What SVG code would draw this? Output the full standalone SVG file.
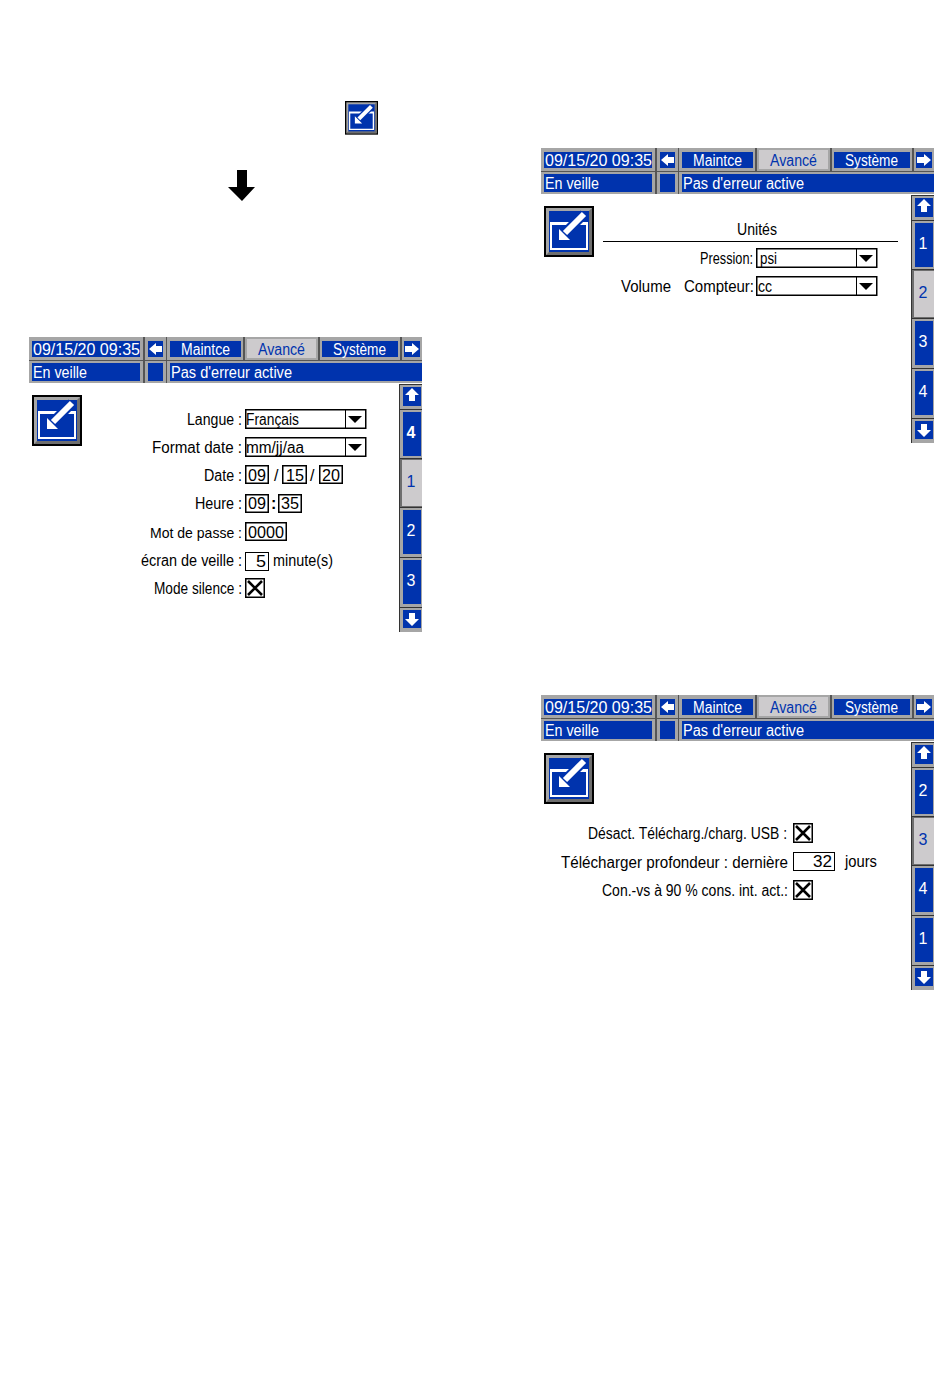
<svg xmlns="http://www.w3.org/2000/svg" width="950" height="1397" viewBox="0 0 950 1397">
<style>
text{font-family:"Liberation Sans",Arial,sans-serif;font-size:16px;fill:#000}
.tw{fill:#fff}.tb{fill:#0033ad}.n{font-size:15px}
.blue{fill:#0033ad}.lt{fill:#a6a6a6}.dk{fill:#6e6e6e}.sel{fill:#cdcbcd}
.box{fill:#fff;stroke:#000;stroke-width:1.500}
.thin{fill:#fff;stroke:#000;stroke-width:1}
</style>
<defs>
<g id="icon">
<rect x="0" y="0" width="50" height="51" fill="#000"/>
<rect x="2" y="2" width="46" height="47" class="lt"/>
<path d="M48 2V49H2L5 46H45V5Z" class="dk"/>
<rect x="5" y="5" width="40" height="41" class="blue"/>
<path d="M6 16H44V44H6Z M8 19V42H42V19Z" fill="#fff" fill-rule="evenodd"/>
<path d="M21 27L40 8" stroke="#0033ad" stroke-width="10" fill="none"/>
<path d="M12 37V20L29 37Z" fill="#0033ad"/>
<path d="M21 27L40 8" stroke="#fff" stroke-width="6" fill="none"/>
<path d="M15 34V23L26 34Z" fill="#fff"/>
</g>
<g id="drop">
<rect x="0.750" y="0.750" width="120" height="18.500" class="box"/>
<path d="M100.500 1V19" stroke="#000"/>
<path d="M103 7H117L110 14Z" fill="#000"/>
</g>
<g id="cb">
<rect x="0.750" y="0.750" width="18.500" height="18.500" class="box"/>
<path d="M3 3L17 17M17 3L3 17" stroke="#000" stroke-width="2.600"/>
</g>
<g id="chrome">
<rect x="0" y="0" width="393" height="46" fill="#555"/>
<rect x="0" y="0" width="114" height="23" class="lt"/><rect x="3" y="4" width="108" height="16" class="blue"/>
<rect x="116" y="0" width="21" height="23" class="lt"/><rect x="119" y="4" width="15" height="16" class="blue"/>
<rect x="138" y="0" width="76" height="23" class="lt"/><rect x="141" y="4" width="71" height="16" class="blue"/>
<rect x="216" y="0" width="73" height="23" class="lt"/><rect x="218" y="2" width="69" height="19" class="sel"/>
<rect x="291" y="0" width="80" height="23" class="lt"/><rect x="293" y="4" width="76" height="16" class="blue"/>
<rect x="373" y="0" width="20" height="23" class="lt"/><rect x="375" y="4" width="16" height="16" class="blue"/>
<rect x="0" y="24" width="114" height="22" class="lt"/><rect x="3" y="26" width="108" height="18" class="blue"/>
<rect x="116" y="24" width="21" height="22" class="lt"/><rect x="119" y="26" width="15" height="18" class="blue"/>
<rect x="138" y="24" width="255" height="22" class="lt"/><rect x="141" y="26" width="252" height="18" class="blue"/>
<path d="M120 12L127 6V9H133V15H127V18Z" fill="#fff"/>
<path d="M390 12L383 6V9H376V15H383V18Z" fill="#fff"/>
<rect x="370" y="47" width="23" height="248" fill="#333"/>
<rect x="371" y="48" width="22" height="24" class="lt"/><rect x="374" y="50" width="18" height="19" class="blue"/>
<rect x="371" y="73" width="22" height="48" class="lt"/><rect x="374" y="75" width="18" height="44" class="blue"/>
<rect x="371" y="122" width="22" height="48" class="dk"/><rect x="373" y="123" width="20" height="46" class="sel"/>
<rect x="371" y="171" width="22" height="49" class="lt"/><rect x="374" y="173" width="18" height="44" class="blue"/>
<rect x="371" y="221" width="22" height="49" class="lt"/><rect x="374" y="223" width="18" height="44" class="blue"/>
<rect x="371" y="271" width="22" height="24" class="lt"/><rect x="374" y="273" width="18" height="18" class="blue"/>
<path d="M383 51L390 58H386V64H380V58H376Z" fill="#fff"/>
<path d="M383 289L390 282H386V276H380V282H376Z" fill="#fff"/>
<use href="#icon" x="3" y="58"/>
</g>
</defs>
<rect width="950" height="1397" fill="#fff"/>

<g id="connectors">
<path id="down-arrow" d="M237 170H247V187H255L242 201L228 187H237Z" fill="#000"/>
</g>

<g id="small-icon"><use href="#icon" transform="translate(345 101) scale(0.66)"/></g>

<g id="screen-1" transform="translate(29 337)">
<use href="#chrome"/>
<text x="4" y="18" textLength="107" lengthAdjust="spacingAndGlyphs" class="tw">09/15/20 09:35</text>
<text x="152" y="18" textLength="49" lengthAdjust="spacingAndGlyphs" class="tw">Maintce</text>
<text x="229" y="18" textLength="47" lengthAdjust="spacingAndGlyphs" class="tb">Avancé</text>
<text x="304" y="18" textLength="53" lengthAdjust="spacingAndGlyphs" class="tw">Système</text>
<text x="4" y="41" textLength="54" lengthAdjust="spacingAndGlyphs" class="tw">En veille</text>
<text x="142" y="41" textLength="121" lengthAdjust="spacingAndGlyphs" class="tw">Pas d'erreur active</text>
<text x="382" y="101" text-anchor="middle" class="tw" font-weight="bold">4</text>
<text x="382" y="150" text-anchor="middle" class="tb">1</text>
<text x="382" y="199" text-anchor="middle" class="tw">2</text>
<text x="382" y="249" text-anchor="middle" class="tw">3</text>
<text x="158" y="88" textLength="55" lengthAdjust="spacingAndGlyphs">Langue :</text>
<text x="123" y="116" textLength="90" lengthAdjust="spacingAndGlyphs">Format date :</text>
<text x="175" y="144" textLength="38" lengthAdjust="spacingAndGlyphs">Date :</text>
<text x="166" y="172" textLength="47" lengthAdjust="spacingAndGlyphs">Heure :</text>
<text x="121" y="201" textLength="92" lengthAdjust="spacingAndGlyphs" class="n">Mot de passe :</text>
<text x="112" y="229" textLength="101" lengthAdjust="spacingAndGlyphs">écran de veille :</text>
<text x="125" y="257" textLength="88" lengthAdjust="spacingAndGlyphs">Mode silence :</text>
<use href="#drop" x="216" y="72"/>
<text x="217" y="88" textLength="53" lengthAdjust="spacingAndGlyphs">Français</text>
<use href="#drop" x="216" y="100"/>
<text x="217" y="116" textLength="58" lengthAdjust="spacingAndGlyphs">mm/jj/aa</text>
<rect x="216.750" y="128.750" width="22.500" height="17.500" class="box"/><text x="219" y="144" textLength="18" lengthAdjust="spacingAndGlyphs">09</text>
<text x="245" y="144">/</text>
<rect x="253.750" y="128.750" width="23.500" height="17.500" class="box"/><text x="257" y="144" textLength="18" lengthAdjust="spacingAndGlyphs">15</text>
<text x="281" y="144">/</text>
<rect x="290.750" y="128.750" width="22.500" height="17.500" class="box"/><text x="293" y="144" textLength="18" lengthAdjust="spacingAndGlyphs">20</text>
<rect x="216.750" y="157.750" width="22.500" height="17.500" class="box"/><text x="219" y="172" textLength="18" lengthAdjust="spacingAndGlyphs">09</text>
<text x="242" y="172" font-weight="bold">:</text>
<rect x="249.750" y="157.750" width="22.500" height="17.500" class="box"/><text x="252" y="172" textLength="18" lengthAdjust="spacingAndGlyphs">35</text>
<rect x="216.750" y="185.750" width="40.500" height="17.500" class="box"/><text x="219" y="201" textLength="36" lengthAdjust="spacingAndGlyphs">0000</text>
<rect x="216.500" y="215.500" width="23" height="18" class="thin"/><text x="227" y="230" textLength="10" lengthAdjust="spacingAndGlyphs">5</text>
<text x="244" y="229" textLength="60" lengthAdjust="spacingAndGlyphs">minute(s)</text>
<use href="#cb" x="216" y="241"/>
</g>

<g id="screen-2" transform="translate(541 148)">
<use href="#chrome"/>
<text x="4" y="18" textLength="107" lengthAdjust="spacingAndGlyphs" class="tw">09/15/20 09:35</text>
<text x="152" y="18" textLength="49" lengthAdjust="spacingAndGlyphs" class="tw">Maintce</text>
<text x="229" y="18" textLength="47" lengthAdjust="spacingAndGlyphs" class="tb">Avancé</text>
<text x="304" y="18" textLength="53" lengthAdjust="spacingAndGlyphs" class="tw">Système</text>
<text x="4" y="41" textLength="54" lengthAdjust="spacingAndGlyphs" class="tw">En veille</text>
<text x="142" y="41" textLength="121" lengthAdjust="spacingAndGlyphs" class="tw">Pas d'erreur active</text>
<text x="382" y="101" text-anchor="middle" class="tw">1</text>
<text x="382" y="150" text-anchor="middle" class="tb">2</text>
<text x="382" y="199" text-anchor="middle" class="tw">3</text>
<text x="382" y="249" text-anchor="middle" class="tw">4</text>
<text x="196" y="87" textLength="40" lengthAdjust="spacingAndGlyphs">Unités</text>
<path d="M62 93.500H357" stroke="#000"/>
<text x="159" y="116" textLength="53" lengthAdjust="spacingAndGlyphs">Pression:</text>
<text x="80" y="144" textLength="50" lengthAdjust="spacingAndGlyphs">Volume</text>
<text x="143" y="144" textLength="70" lengthAdjust="spacingAndGlyphs">Compteur:</text>
<use href="#drop" x="215" y="100"/>
<text x="219" y="116" textLength="17" lengthAdjust="spacingAndGlyphs">psi</text>
<use href="#drop" x="215" y="128"/>
<text x="217" y="144" textLength="14" lengthAdjust="spacingAndGlyphs">cc</text>
</g>

<g id="screen-3" transform="translate(541 695)">
<use href="#chrome"/>
<text x="4" y="18" textLength="107" lengthAdjust="spacingAndGlyphs" class="tw">09/15/20 09:35</text>
<text x="152" y="18" textLength="49" lengthAdjust="spacingAndGlyphs" class="tw">Maintce</text>
<text x="229" y="18" textLength="47" lengthAdjust="spacingAndGlyphs" class="tb">Avancé</text>
<text x="304" y="18" textLength="53" lengthAdjust="spacingAndGlyphs" class="tw">Système</text>
<text x="4" y="41" textLength="54" lengthAdjust="spacingAndGlyphs" class="tw">En veille</text>
<text x="142" y="41" textLength="121" lengthAdjust="spacingAndGlyphs" class="tw">Pas d'erreur active</text>
<text x="382" y="101" text-anchor="middle" class="tw">2</text>
<text x="382" y="150" text-anchor="middle" class="tb">3</text>
<text x="382" y="199" text-anchor="middle" class="tw">4</text>
<text x="382" y="249" text-anchor="middle" class="tw">1</text>
<text x="47" y="144" textLength="199" lengthAdjust="spacingAndGlyphs">Désact. Télécharg./charg. USB :</text>
<use href="#cb" x="252" y="128"/>
<text x="20" y="173" textLength="227" lengthAdjust="spacingAndGlyphs">Télécharger profondeur : dernière</text>
<rect x="252.500" y="157.500" width="41" height="18" class="thin"/><text x="272" y="172" textLength="19" lengthAdjust="spacingAndGlyphs">32</text>
<text x="304" y="172" textLength="32" lengthAdjust="spacingAndGlyphs">jours</text>
<text x="61" y="201" textLength="186" lengthAdjust="spacingAndGlyphs">Con.-vs à 90 % cons. int. act.:</text>
<use href="#cb" x="252" y="185"/>
</g>
</svg>
